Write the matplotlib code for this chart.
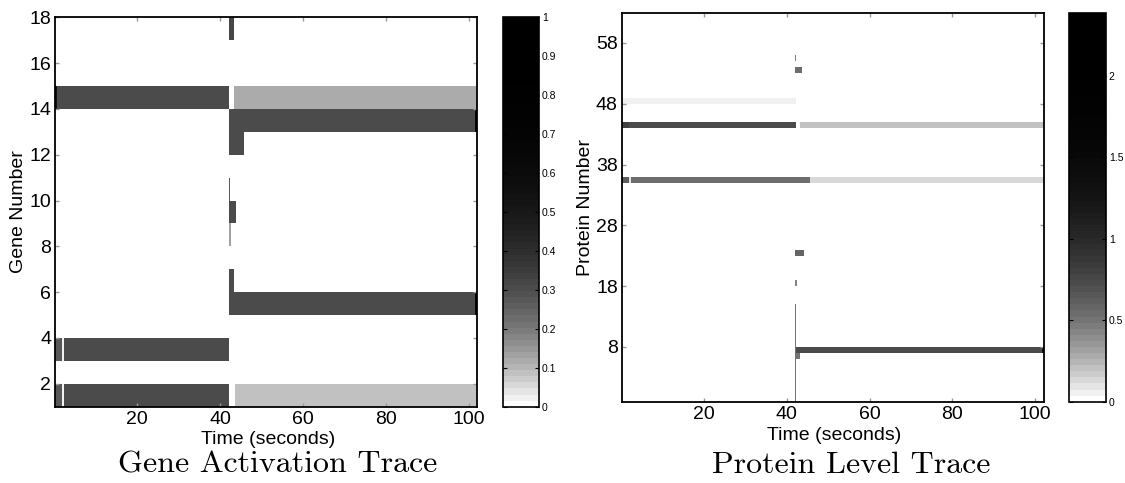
import numpy as np
import matplotlib
matplotlib.use('Agg')
import matplotlib.pyplot as plt
from matplotlib.colors import ListedColormap, Normalize
from matplotlib.cm import ScalarMappable

plt.rcParams['font.family'] = ['Liberation Sans', 'DejaVu Sans']

# gene activation trace: one bar per segment (row, start time, end time, level)
gene_row = [14, 14, 14, 17, 13, 13, 12, 10, 9, 8, 6, 5, 5,
            3, 3, 3, 1, 1, 1, 1]
gene_t0 = [0.0, 0.6, 43.35, 42.1, 42.1, 101.6, 42.1, 42.1, 42.1, 42.1, 42.1, 42.1, 101.6,
           0.0, 1.9, 2.3, 0.0, 1.9, 2.3, 43.5]
gene_t1 = [0.6, 42.1, 102.0, 43.3, 101.6, 102.0, 45.8, 42.4, 43.9, 42.7, 43.35, 101.6, 102.0,
           1.9, 2.3, 42.1, 1.9, 2.3, 42.1, 102.0]
gene_val = [0.55, 0.30, 0.12, 0.32, 0.30, 0.70, 0.30, 0.28, 0.30, 0.14, 0.30, 0.30, 0.70,
            0.27, 0.02, 0.30, 0.27, 0.02, 0.30, 0.09]

# protein level trace
prot_row = [55, 53, 48, 44, 44, 44, 35, 35, 35, 35, 23, 18, -1, 7, 7, 6]
prot_h = [1, 1, 1, 1, 1, 1, 1, 1, 1, 1, 1, 1, 16, 1, 1, 1]
prot_t0 = [41.9, 42.0, 0.0, 0.0, 2.0, 43.3, 0.0, 1.8, 2.3, 45.7, 42.0, 42.0, 41.9, 42.3, 101.6, 42.3]
prot_t1 = [42.3, 43.6, 42.1, 2.0, 42.1, 102.0, 1.8, 2.3, 45.7, 102.0, 44.1, 42.4, 42.3, 101.6, 102.0, 43.2]
prot_val = [0.45, 0.55, 0.07, 0.80, 0.71, 0.22, 0.60, 0.10, 0.56, 0.14, 0.57, 0.42, 0.50, 0.72, 1.30, 0.50]

gene_ticks = np.arange(2, 19, 2)
prot_ticks = np.arange(8, 59, 10)
time_ticks = [20, 40, 60, 80, 100]

# 64 level grey map, white at zero, dark quickly
lev = np.linspace(0, 1, 64)
g = (1 - lev) ** 3.4
cmap = ListedColormap(np.column_stack([g, g, g]))

fig = plt.figure(figsize=(11.25, 4.83), dpi=100)


def panel(rect, crect, rows, heights, t0, t1, vals, vmax, ylim, yticks, ylabel, title, tx, cticks, xl_y):
    ax = fig.add_axes(rect)
    norm = Normalize(0, vmax)
    widths = np.array(t1) - np.array(t0)
    ax.barh(rows, widths, left=t0, height=heights, align='edge',
            color=cmap(norm(np.array(vals))), linewidth=0)
    ax.set_xlim(0.2, 102.1)
    ax.set_ylim(*ylim)
    ax.set_xticks(time_ticks)
    ax.set_yticks(yticks)
    ax.tick_params(direction='in', length=3, width=1, color='#999999',
                   top=True, right=True, labelsize=14, pad=3)
    for s in ax.spines.values():
        s.set_linewidth(1.3)
    ax.set_xlabel('Time (seconds)', fontsize=14)
    ax.set_ylabel(ylabel, fontsize=14)
    ax.xaxis.set_label_coords(0.503, xl_y)
    ax.yaxis.set_label_coords(-0.067, 0.5)

    cax = fig.add_axes(crect)
    cb = fig.colorbar(ScalarMappable(norm=norm, cmap=cmap), cax=cax, ticks=cticks)
    cb.outline.set_linewidth(1.2)
    cax.tick_params(direction='in', length=3, left=True, right=True, labelsize=7.5, pad=2)
    cb.set_ticklabels(['%g' % c for c in cticks])

    fig.text(tx, 0.037, title, fontsize=23, family='cmr10', ha='center', va='center')
    return ax


panel([0.0492, 0.158, 0.3752, 0.806], [0.4467, 0.158, 0.0324, 0.806],
      gene_row, 1, gene_t0, gene_t1, gene_val, 1.0, (1, 18), gene_ticks,
      'Gene Number', 'Gene Activation Trace', 0.247,
      [0, 0.1, 0.2, 0.3, 0.4, 0.5, 0.6, 0.7, 0.8, 0.9, 1], -0.063)

panel([0.5529, 0.1683, 0.3751, 0.8058], [0.9498, 0.1683, 0.0333, 0.8058],
      prot_row, prot_h, prot_t0, prot_t1, prot_val, 2.39, (-1, 63), prot_ticks,
      'Protein Number', 'Protein Level Trace', 0.757,
      [0, 0.5, 1, 1.5, 2], -0.066)

plt.savefig('out.png', dpi=100)
